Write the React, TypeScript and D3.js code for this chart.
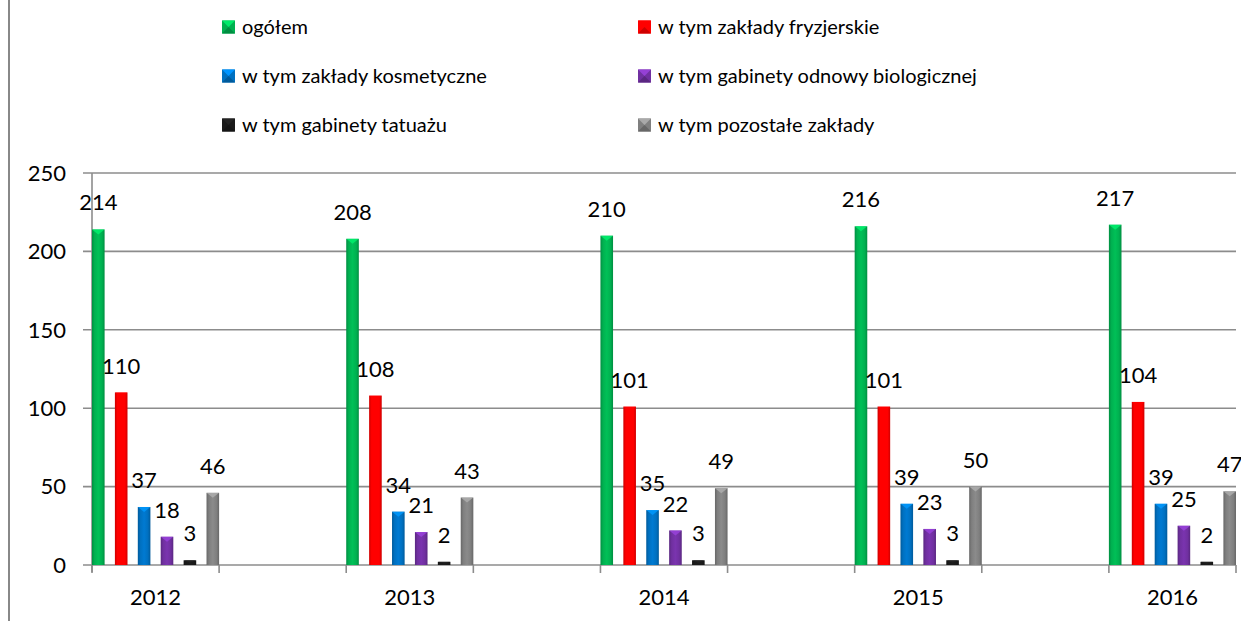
import React, { useEffect } from "react";
import * as d3 from "d3";

const years = ["2012", "2013", "2014", "2015", "2016"];
const seriesNames = [
  "ogółem",
  "w tym zakłady fryzjerskie",
  "w tym zakłady kosmetyczne",
  "w tym gabinety odnowy biologicznej",
  "w tym gabinety tatuażu",
  "w tym pozostałe zakłady",
];
const ogolem = [214, 208, 210, 216, 217];
const fryzjerskie = [110, 108, 101, 101, 104];
const kosmetyczne = [37, 34, 35, 39, 39];
const odnowy = [18, 21, 22, 23, 25];
const tatuazu = [3, 2, 3, 3, 2];
const pozostale = [46, 43, 49, 50, 47];
const seriesValues = [ogolem, fryzjerskie, kosmetyczne, odnowy, tatuazu, pozostale];
const colors = ["#00b050", "#ff0000", "#0070c0", "#7030a0", "#1a1a1a", "#7f7f7f"];
const yTicks = [0, 50, 100, 150, 200, 250];

const W = 1241;
const H = 621;
const FONT = "Lato, 'Open Sans', sans-serif";

export default function App() {
  useEffect(() => {
    document.body.style.margin = "0";
  }, []);

  const plotLeft = 92;
  const plotRight = 1236;
  const y = d3.scaleLinear().domain([0, 250]).range([565, 173]);
  const slots = d3.scaleLinear().domain([0, 9]).range([plotLeft, plotRight]);
  const slotW = slots(1) - slots(0);
  const inner = d3
    .scaleBand<number>()
    .domain(d3.range(seriesNames.length))
    .range([0, slotW])
    .paddingInner(0.45)
    .paddingOuter(0);
  const bw = inner.bandwidth();

  const legendRows = [27, 76, 125];
  const legendCols = [222, 638];

  return (
    <svg width={W} height={H} style={{ display: "block", background: "#fff" }} fontFamily={FONT}>
      <defs>
        {colors.map((c, i) => {
          const dark = d3.color(c)!.darker(0.6).formatHex();
          const light = d3.color(c)!.brighter(0.25).formatHex();
          return (
            <linearGradient key={i} id={`g${i}`} x1="0" x2="1" y1="0" y2="0">
              <stop offset="0" stopColor={dark} />
              <stop offset="0.2" stopColor={c} />
              <stop offset="0.5" stopColor={light} />
              <stop offset="0.8" stopColor={c} />
              <stop offset="1" stopColor={dark} />
            </linearGradient>
          );
        })}
      </defs>
      <line x1={9} x2={9} y1={0} y2={H} stroke="#888" strokeWidth={2} />

      {/* gridlines */}
      {yTicks.map((t) => (
        <g key={t}>
          <line x1={plotLeft - 9} x2={plotRight} y1={y(t)} y2={y(t)} stroke="#8c8c8c" strokeWidth={1.6} />
          <text x={66} y={y(t)} dy="0.35em" textAnchor="end" fontSize={22} fill="#000">
            {t}
          </text>
        </g>
      ))}
      <line x1={plotLeft} x2={plotLeft} y1={y(250)} y2={y(0) + 7} stroke="#8c8c8c" strokeWidth={1.6} />
      {d3.range(10).map((k) => (
        <line key={k} x1={slots(k)} x2={slots(k)} y1={y(0)} y2={y(0) + 8} stroke="#8c8c8c" strokeWidth={1.6} />
      ))}
      {years.map((yr, i) => (
        <text key={yr} x={slots(2 * i) + slotW / 2} y={597} dy="0.35em" textAnchor="middle" fontSize={22} fill="#000">
          {yr}
        </text>
      ))}

      {/* bars */}
      {years.map((yr, i) => (
        <g key={yr}>
          {seriesValues.map((vals, s) => {
            const v = vals[i];
            const x0 = slots(2 * i) + (inner(s) as number);
            const top = y(v);
            const light = d3.color(colors[s])!.brighter(0.9).formatHex();
            return (
              <g key={s}>
                <rect x={x0} y={top} width={bw} height={y(0) - top} fill={`url(#g${s})`} />
                <path
                  d={`M${x0},${top}L${x0 + bw},${top}L${x0 + bw / 2},${top + Math.min(5, (y(0) - top) / 2)}Z`}
                  fill={light}
                  opacity={0.8}
                />
                <text x={x0 + bw / 2} y={top - 19} textAnchor="middle" fontSize={22} fill="#000">
                  {v}
                </text>
              </g>
            );
          })}
        </g>
      ))}

      {/* legend */}
      {seriesNames.map((name, s) => {
        const col = s % 2;
        const row = Math.floor(s / 2);
        const lx = legendCols[col];
        const ly = legendRows[row];
        const sz = 13;
        const c = colors[s];
        const light = d3.color(c)!.brighter(0.8).formatHex();
        const dark = d3.color(c)!.darker(0.6).formatHex();
        const x0 = lx;
        const y0 = ly - sz / 2;
        return (
          <g key={name}>
            <rect x={x0} y={y0} width={sz} height={sz} fill={c} />
            <path d={`M${x0},${y0}L${x0 + sz},${y0}L${x0 + sz / 2},${y0 + sz / 2}Z`} fill={light} />
            <path d={`M${x0},${y0 + sz}L${x0 + sz},${y0 + sz}L${x0 + sz / 2},${y0 + sz / 2}Z`} fill={dark} />
            <text x={lx + 20} y={ly} dy="0.35em" fontSize={20} fill="#000">
              {name}
            </text>
          </g>
        );
      })}
    </svg>
  );
}
